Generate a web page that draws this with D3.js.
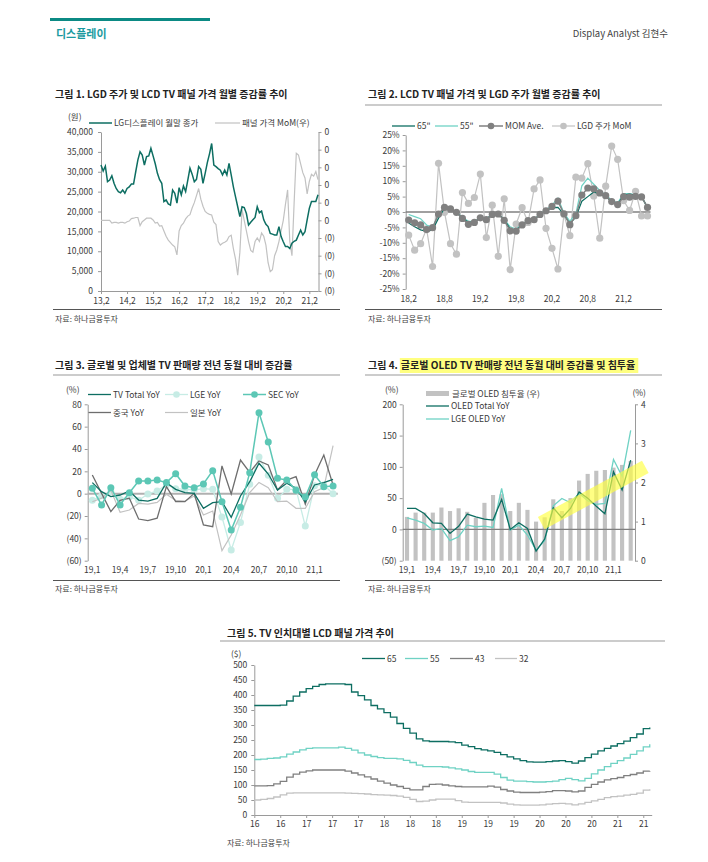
<!DOCTYPE html>
<html>
<head>
<meta charset="utf-8">
<script src="https://cdn.jsdelivr.net/npm/d3@7"></script>
<style>
  body { margin: 0; background: #fff; }
  svg text { font-family: "Noto Sans CJK KR", "Noto Sans", sans-serif; }
</style>
</head>
<body>
<svg id="page" width="708" height="862"></svg>
<script>
// ---------- chart 1 : LGD price vs panel MoM ----------
var c1Labels = ["13,2","14,2","15,2","16,2","17,2","18,2","19,2","20,2","21,2"]
var c1RightTicks = [-0.2,-0.15,-0.1,-0.05,0,0.05,0.1,0.15,0.2,0.25]
var lgdClose = [31700,30200,31400,27500,27900,29000,27100,25800,25000,24700,
  25400,24600,25800,26200,26900,26900,30000,33000,35000,34200,
  31700,33800,34000,35900,34000,32000,29600,28000,27100,22500,
  22900,21900,21600,25400,24600,22100,26000,24200,26400,25000,
  27900,30900,29400,27500,28100,31300,30600,27100,29600,32300,
  34500,37100,31700,31300,30800,30400,29200,30400,29200,32100,
  29200,26200,23700,21200,18700,21200,21000,19500,16600,17300,
  17900,18500,21200,19700,20100,17900,16800,16200,14500,14300,
  14100,14100,16200,13700,12400,11200,11200,10700,12000,12500,
  12800,14100,15300,14100,14900,17900,20800,22500,22500,22500,
  24200]
var panelMoM = [0,0,0,0,0,-0.008,-0.006,-0.006,-0.008,-0.006,
  -0.006,-0.008,-0.004,-0.002,0.005,0.006,0.008,0.008,-0.015,-0.004,
  0.001,0.006,0.006,0.006,0.001,-0.008,-0.006,-0.016,-0.015,-0.03,
  -0.045,-0.056,-0.063,-0.07,-0.075,-0.098,-0.03,-0.015,-0.008,0.004,
  0.012,0.016,0.035,0.05,0.07,0.09,0.06,0.04,0.025,0.02,
  0.017,0.015,-0.005,-0.012,-0.06,-0.07,-0.065,-0.062,-0.058,-0.046,
  -0.042,-0.08,-0.11,-0.155,-0.09,0.03,0.0,-0.03,-0.06,-0.085,
  -0.09,-0.06,-0.05,-0.06,-0.036,-0.045,-0.07,-0.12,-0.145,-0.14,
  -0.1,-0.084,-0.06,-0.03,0.0,0.045,0.086,-0.06,-0.1,0.05,
  0.19,0.185,0.16,0.135,0.12,0.075,0.11,0.13,0.125,0.138,
  0.115]

// ---------- chart 2 : monthly change (%) ----------
var c2Labels = ["18,2","18,8","19,2","19,8","20,2","20,8","21,2"]
var mom65 = [-3.6,-4.8,-5.8,-6.3,-5.8,-2.0,1.2,0.8,-0.2,-2.0,-3.3,-3.2,-2.0,-2.3,-0.8,-0.7,-2.5,-5.5,-5.8,-4.2,
  -2.8,-2.4,-0.9,0.4,1.4,1.5,-0.8,-3.8,-1.6,3.5,5.0,6.5,5.8,5.0,3.3,2.5,5.5,5.8,5.5,5.0,1.5]
var mom55 = [-0.8,-1.5,-2.2,-4.2,-5.0,-0.8,1.4,1.0,0.0,-1.7,-3.0,-3.0,-1.8,-2.3,-0.8,-0.6,-2.4,-4.8,-5.5,-4.0,
  -2.6,-2.3,-0.7,0.7,2.2,4.5,-0.3,-3.0,-0.5,8.5,11.0,9.0,7.0,5.5,3.8,3.0,6.0,6.0,5.5,5.0,1.2]
var momAve = [-2.6,-3.5,-4.2,-5.7,-5.1,-0.65,1.5,1.0,-0.1,-2.1,-4.0,-3.4,-1.9,-2.5,-0.8,-0.65,-2.7,-6.1,-6.2,-4.2,
  -2.8,-2.5,-0.8,0.4,1.8,3.5,-0.6,-4.1,-1.2,5.5,7.8,7.5,6.2,5.3,3.4,2.4,5.0,4.8,5.1,4.9,1.5]
var lgdMoM = [-7.5,-12.4,-10.3,-5.5,-17.7,15.8,-0.1,-10.3,-13.7,6.3,2.8,4.7,12.3,-8.3,2.2,-14.4,4.3,-18.7,-3.9,1.4,
  -3.4,7.5,10.4,-5.3,-11.8,-18.5,-0.8,-7.7,11.3,11.0,15.7,5.2,-8.5,8.4,21.4,17.1,3.7,0.5,6.7,-1.3,-1.3]

// ---------- chart 3 : TV sales YoY (%) ----------
var c3Labels = ["19,1","19,4","19,7","19,10","20,1","20,4","20,7","20,10","21,1"]
var tvTotalYoY = [9.9,1.8,-2.7,-1.2,2.4,-5.7,-6.6,-4.2,9.9,3.9,0.9,0.3,-13.1,-8,-7.2,-21.2,-2.1,10.7,27.2,17.6,3.3,9.3,4.8,-7.2,7.8,9.9,12.8]
var lgeYoY = [-6,-1.8,1.8,-5,-2.7,-6,-0.3,2.4,8,4.5,3.9,3.3,4.5,3.9,-20.9,-50.4,-25.7,8.4,32.8,16.4,-4.2,3.9,3.9,-29,7.2,7.8,0]
var secYoY = [4.8,-10.1,5.4,-10.1,0.9,11.3,11.3,12.2,9.9,17.9,6.9,5.4,8.7,20.6,-7.2,-32.5,-12.2,18.8,72.5,46.3,13.7,12.2,3.0,-3.0,17.0,6.3,6.9]
var chinaYoY = [16.7,0.3,-16,-6,-4,-22.7,-24.2,-22,6.3,-7.2,-7.2,0.3,-28,-29.6,24.8,-0.3,30.1,19.1,29.3,25.7,3.3,12.2,15.2,-9.3,16.7,34.6,7.8]
var japanYoY = [-7.2,-4,3,-16.7,-14.6,-8.7,-9.3,-7.8,-0.6,-6,-6.6,-2.1,-19.1,-15.5,-51,-37,-19,0.9,10.1,5.4,-7.2,-6.6,-13.1,-13.1,1.8,5.4,43]

// ---------- chart 4 : OLED TV ----------
var oledShare = [1.12,1.23,1.23,1.23,1.36,1.27,1.34,1.25,1.1,1.48,1.68,1.70,1.27,1.48,1.30,1.0,1.11,1.57,1.27,1.6,2.05,2.22,2.30,2.32,2.38,2.45,2.55]
var oledTotalYoY = [33.5,33.5,25.5,10.6,9.6,-6.4,5,24.5,20.2,16.5,15,48,0,10.6,1.6,-34.6,-15.4,34.6,18.6,33.5,60,50,37,25,92,63,110.7]
var lgeOledYoY = [18.6,14.9,9.6,-1,1.6,-18,-11.7,6.9,4.3,5.3,3.2,65.4,-1,6.9,-9,-33,-18,37.8,49.5,42.6,57.5,45.8,40,41.5,111.7,85,158.5]
var markIdx = [15.6, 27.7]   // yellow marker, in month index
var markVal = [10, 100]      // and left-axis value

// ---------- chart 5 : LCD panel price by size ($) ----------
var c5Labels = ["16","16","17","17","17","18","18","18","19","19","19","20","20","20","21","21"]
var panel65 = [365,365,365,365,366,380,396,410,421,429,435,437,437,437,435,410,398,384,365,354,
  341,326,305,289,273,254,247,245,245,245,244,241,233,228,221,217,214,209,201,194,
  187,181,177,176,176,178,180,181,178,173,180,191,203,214,222,230,238,246,258,270,288,292]
var panel55 = [185,186,189,190,194,203,210,217,222,224,224,224,224,226,222,216,207,200,195,191,
  189,189,187,182,175,166,161,161,161,160,157,154,150,145,142,142,142,136,125,116,
  113,113,111,110,110,111,113,118,122,118,114,122,137,150,161,172,181,190,202,214,227,236]
var panel43 = [97,97,98,104,112,126,136,143,147,150,150,150,150,150,146,140,134,127,120,113,
  106,100,95,89,84,84,95,102,103,100,97,95,94,94,94,94,96,93,85,80,
  76,75,75,75,76,78,81,81,80,77,80,92,102,110,117,121,125,131,135,140,146,147]
var panel32 = [50,52,55,60,67,73,74,74,74,74,74,74,74,74,73,72,71,70,68,67,
  66,65,63,59,52,45,46,50,53,53,53,48,43,42,42,42,42,42,40,36,
  34,33,33,33,34,36,38,39,37,34,37,42,47,52,58,61,63,66,69,73,83,86]

var TEAL_DARK = "#0d6e62", TEAL = "#5cc7b5", TEAL_PALE = "#c7ece5", TEAL_LINE = "#6fd2c4"
var GRAY_DARK = "#6e6e6e", GRAY_MID = "#808080", GRAY_LIGHT = "#c2c2c2"

var svg = d3.select("#page")
svg.append("rect").attr("width", 708).attr("height", 862).attr("fill", "#fff")

function styleAxis(g) {
  g.attr("font-family", null).attr("font-size", 8.5)
  g.selectAll("path.domain").attr("stroke", "#9a9a9a")
  g.selectAll(".tick line").attr("stroke", "#9a9a9a")
  g.selectAll("text").attr("fill", "#3a3a3a")
}
function noDomain(g) { g.select("path.domain").remove() }

function title(x, y, txt) {
  return svg.append("text").attr("x", x).attr("y", y).attr("font-size", 10).attr("font-weight", "bold").attr("fill", "#222").text(txt)
}
function hline(x1, x2, y, color, w) {
  svg.append("line").attr("x1", x1).attr("x2", x2).attr("y1", y).attr("y2", y).attr("stroke", color).attr("stroke-width", w || 1)
}
function source(x, y) {
  svg.append("text").attr("x", x).attr("y", y).attr("font-size", 8).attr("fill", "#444").text("자료: 하나금융투자")
}
function small(x, y, txt, anchor) {
  svg.append("text").attr("x", x).attr("y", y).attr("font-size", 8.5).attr("fill", "#3a3a3a").attr("text-anchor", anchor || "start").text(txt)
}
function legendLine(x1, x2, y, color, width, label, dot) {
  svg.append("line").attr("x1", x1).attr("x2", x2).attr("y1", y).attr("y2", y).attr("stroke", color).attr("stroke-width", width)
  if (dot) svg.append("circle").attr("cx", (x1 + x2) / 2).attr("cy", y).attr("r", 3.3).attr("fill", dot)
  svg.append("text").attr("x", x2 + 2).attr("y", y + 3).attr("font-size", 8.5).attr("fill", "#3a3a3a").text(label)
}
function paren(d) { return d < 0 ? "(" + (-d) + ")" : d }

// ---------- header ----------
svg.append("rect").attr("x", 50).attr("y", 18).attr("width", 160).attr("height", 3).attr("fill", "#0b8a84")
svg.append("text").attr("x", 56).attr("y", 38).attr("font-size", 11).attr("font-weight", "bold").attr("fill", "#1a9aa0").text("디스플레이")
svg.append("text").attr("x", 668).attr("y", 37).attr("font-size", 9.5).attr("text-anchor", "end").attr("fill", "#444").text("Display Analyst  김현수")

// ================= chart 1 =================
title(55, 98, "그림 1. LGD 주가 및 LCD TV 패널 가격 월별 증감률 추이")
small(68, 120, "(원)")
legendLine(89, 112, 123, TEAL_DARK, 1.5, "LG디스플레이 월말 종가")
legendLine(215, 240, 123, GRAY_LIGHT, 1.2, "패널 가격 MoM(우)")

var x1 = d3.scaleLinear().domain([0, lgdClose.length - 1]).range([101, 318])
var y1L = d3.scaleLinear().domain([0, 40000]).range([291, 132])
var y1R = d3.scaleLinear().domain([-0.2, 0.25]).range([291, 132])

svg.append("g").attr("transform", "translate(101,0)")
  .call(d3.axisLeft(y1L).tickValues(d3.range(0, 40001, 5000)).tickFormat(d3.format(",")).tickSize(3).tickPadding(5).tickSizeOuter(0)).call(styleAxis)
svg.append("g").attr("transform", "translate(318.5,0)")
  .call(d3.axisRight(y1R).tickValues(c1RightTicks).tickFormat(function(d) { return d < -1e-9 ? "(0)" : "0" }).tickSize(3).tickSizeOuter(0)).call(styleAxis)
svg.append("g").attr("transform", "translate(0,291)")
  .call(d3.axisBottom(x1).tickValues(d3.range(0, 97, 12)).tickFormat(function(d) { return c1Labels[d / 12] }).tickSize(3).tickPadding(4).tickSizeOuter(0)).call(styleAxis)

svg.append("path").datum(panelMoM).attr("fill", "none").attr("stroke", GRAY_LIGHT).attr("stroke-width", 1.2)
  .attr("d", d3.line().x(function(d, i) { return x1(i) }).y(function(d) { return y1R(d) }))
svg.append("path").datum(lgdClose).attr("fill", "none").attr("stroke", TEAL_DARK).attr("stroke-width", 1.5)
  .attr("d", d3.line().x(function(d, i) { return x1(i) }).y(function(d) { return y1L(d) }))

hline(53, 340, 309.5, "#555")
source(55, 322)

// ================= chart 2 =================
title(368, 98, "그림 2. LCD TV 패널 가격 및 LGD 주가 월별 증감률 추이")
hline(365, 662, 105, "#999")
legendLine(392, 415, 126, TEAL_DARK, 1.3, "65\"")
legendLine(435, 458, 126, TEAL_LINE, 1.3, "55\"")
legendLine(479, 503, 126, GRAY_MID, 1.5, "MOM Ave.", GRAY_MID)
legendLine(552, 575, 126, GRAY_LIGHT, 1.2, "LGD 주가 MoM", GRAY_LIGHT)

var x2 = d3.scaleBand().domain(d3.range(momAve.length)).range([405.7, 650.5])
var y2 = d3.scaleLinear().domain([-25, 25]).range([289, 135])
var cx2 = function(d, i) { return x2(i) + x2.bandwidth() / 2 }

svg.append("g").attr("transform", "translate(405.7,0)")
  .call(d3.axisLeft(y2).tickValues(d3.range(-25, 26, 5)).tickFormat(function(d) { return d + "%" }).tickSize(3).tickSizeOuter(0)).call(styleAxis)
svg.append("g").attr("transform", "translate(0,289)")
  .call(d3.axisBottom(x2).tickValues(d3.range(0, 37, 6)).tickFormat(function(d) { return c2Labels[d / 6] }).tickSize(0).tickPadding(7)).call(styleAxis).call(noDomain)
hline(405.7, 650.5, y2(0), GRAY_MID, 1.5)

svg.append("path").datum(lgdMoM).attr("fill", "none").attr("stroke", GRAY_LIGHT).attr("stroke-width", 1.2)
  .attr("d", d3.line().x(cx2).y(function(d) { return y2(d) }))
svg.selectAll("circle.lgd").data(lgdMoM).enter().append("circle").attr("class", "lgd")
  .attr("cx", cx2).attr("cy", function(d) { return y2(d) }).attr("r", 3.6).attr("fill", GRAY_LIGHT)
svg.append("path").datum(mom55).attr("fill", "none").attr("stroke", TEAL_LINE).attr("stroke-width", 1.2)
  .attr("d", d3.line().x(cx2).y(function(d) { return y2(d) }))
svg.append("path").datum(mom65).attr("fill", "none").attr("stroke", TEAL_DARK).attr("stroke-width", 1.2)
  .attr("d", d3.line().x(cx2).y(function(d) { return y2(d) }))
svg.append("path").datum(momAve).attr("fill", "none").attr("stroke", GRAY_MID).attr("stroke-width", 1.5)
  .attr("d", d3.line().x(cx2).y(function(d) { return y2(d) }))
svg.selectAll("circle.ave").data(momAve).enter().append("circle").attr("class", "ave")
  .attr("cx", cx2).attr("cy", function(d) { return y2(d) }).attr("r", 3.6).attr("fill", GRAY_MID)

hline(365, 662, 309.5, "#555")
source(368, 322)

// ================= chart 3 =================
title(55, 369, "그림 3. 글로벌 및 업체별 TV 판매량 전년 동월 대비 증감률")
hline(53, 340, 375, "#999")
small(66, 393, "(%)")
legendLine(88, 111, 394.5, TEAL_DARK, 1.3, "TV Total YoY")
legendLine(165, 188, 394.5, TEAL_PALE, 1.3, "LGE YoY", TEAL_PALE)
legendLine(243, 266, 394.5, TEAL, 1.5, "SEC YoY", TEAL)
legendLine(88, 111, 412.5, GRAY_DARK, 1.3, "중국 YoY")
legendLine(165, 188, 412.5, GRAY_LIGHT, 1.2, "일본 YoY")

var x3 = d3.scaleBand().domain(d3.range(tvTotalYoY.length)).range([87.7, 337.7])
var y3 = d3.scaleLinear().domain([-60, 80]).range([560.7, 404.3])
var cx3 = function(d, i) { return x3(i) + x3.bandwidth() / 2 }
var line3 = d3.line().x(cx3).y(function(d) { return y3(d) })

svg.append("g").attr("transform", "translate(87.7,0)")
  .call(d3.axisLeft(y3).tickValues(d3.range(-60, 81, 20)).tickFormat(paren).tickSize(3).tickSizeOuter(0)).call(styleAxis)
svg.append("g").attr("transform", "translate(0,560.7)")
  .call(d3.axisBottom(x3).tickValues(d3.range(0, 25, 3)).tickFormat(function(d) { return c3Labels[d / 3] }).tickSize(0).tickPadding(6)).call(styleAxis).call(noDomain)
hline(87.7, 337.7, y3(0), "#b0b0b0", 2)

svg.append("path").datum(lgeYoY).attr("fill", "none").attr("stroke", TEAL_PALE).attr("stroke-width", 1.3).attr("d", line3)
svg.selectAll("circle.lge").data(lgeYoY).enter().append("circle").attr("class", "lge")
  .attr("cx", cx3).attr("cy", function(d) { return y3(d) }).attr("r", 3.5).attr("fill", TEAL_PALE)
svg.append("path").datum(japanYoY).attr("fill", "none").attr("stroke", GRAY_LIGHT).attr("stroke-width", 1.2).attr("d", line3)
svg.append("path").datum(chinaYoY).attr("fill", "none").attr("stroke", GRAY_DARK).attr("stroke-width", 1.3).attr("d", line3)
svg.append("path").datum(tvTotalYoY).attr("fill", "none").attr("stroke", TEAL_DARK).attr("stroke-width", 1.3).attr("d", line3)
svg.append("path").datum(secYoY).attr("fill", "none").attr("stroke", TEAL).attr("stroke-width", 1.5).attr("d", line3)
svg.selectAll("circle.sec").data(secYoY).enter().append("circle").attr("class", "sec")
  .attr("cx", cx3).attr("cy", function(d) { return y3(d) }).attr("r", 3.5).attr("fill", TEAL)

hline(53, 340, 580.5, "#555")
source(55, 591.5)

// ================= chart 4 =================
var t4a = title(368, 369, "그림 4.")
var hx = 368 + t4a.node().getComputedTextLength() + 3
var hlRect = svg.append("rect").attr("fill", "#ffff80")
var t4b = title(hx, 369, "글로벌 OLED TV 판매량 전년 동월 대비 증감률 및 침투율")
hlRect.attr("x", hx - 1).attr("y", 358).attr("width", t4b.node().getComputedTextLength() + 4).attr("height", 15)
hline(365, 662, 375, "#999")
small(385, 393, "(%)")
small(646, 395.5, "(%)", "end")
svg.append("rect").attr("x", 426).attr("y", 391).attr("width", 23).attr("height", 5).attr("fill", GRAY_LIGHT)
svg.append("text").attr("x", 452).attr("y", 396.5).attr("font-size", 8.5).attr("fill", "#3a3a3a").text("글로벌 OLED 침투율 (우)")
legendLine(426, 449, 406, TEAL_DARK, 1.3, "OLED Total YoY")
legendLine(426, 449, 419, TEAL_LINE, 1.3, "LGE OLED YoY")

var x4 = d3.scaleBand().domain(d3.range(oledShare.length)).range([402.7, 635])
var y4L = d3.scaleLinear().domain([-50, 200]).range([560.7, 404.3])
var y4R = d3.scaleLinear().domain([0, 4]).range([560.7, 404.3])
var cx4 = function(d, i) { return x4(i) + x4.bandwidth() / 2 }
var line4 = d3.line().x(cx4).y(function(d) { return y4L(d) })

svg.selectAll("rect.bar").data(oledShare).enter().append("rect").attr("class", "bar")
  .attr("x", function(d, i) { return x4(i) + x4.bandwidth() * 0.26 })
  .attr("width", x4.bandwidth() * 0.48)
  .attr("y", function(d) { return y4R(d) })
  .attr("height", function(d) { return y4R(0) - y4R(d) })
  .attr("fill", GRAY_LIGHT)
svg.append("g").attr("transform", "translate(402.7,0)")
  .call(d3.axisLeft(y4L).tickValues(d3.range(-50, 201, 50)).tickFormat(paren).tickSize(3).tickSizeOuter(0)).call(styleAxis)
svg.append("g").attr("transform", "translate(635,0)")
  .call(d3.axisRight(y4R).tickValues(d3.range(0, 5)).tickFormat(d3.format("d")).tickSize(3).tickSizeOuter(0)).call(styleAxis)
svg.append("g").attr("transform", "translate(0,560.7)")
  .call(d3.axisBottom(x4).tickValues(d3.range(0, 25, 3)).tickFormat(function(d) { return c3Labels[d / 3] }).tickSize(0).tickPadding(6)).call(styleAxis).call(noDomain)
hline(402.7, 635, y4L(0), GRAY_MID, 1.2)

svg.append("path").datum(lgeOledYoY).attr("fill", "none").attr("stroke", TEAL_LINE).attr("stroke-width", 1.3).attr("d", line4)
svg.append("path").datum(oledTotalYoY).attr("fill", "none").attr("stroke", TEAL_DARK).attr("stroke-width", 1.3).attr("d", line4)

var xIdx = function(v) { return x4(0) + x4.bandwidth() / 2 + v * x4.step() }
svg.append("line")
  .attr("x1", xIdx(markIdx[0])).attr("y1", y4L(markVal[0]))
  .attr("x2", xIdx(markIdx[1])).attr("y2", y4L(markVal[1]))
  .attr("stroke", "#ffff40").attr("stroke-opacity", 0.65).attr("stroke-width", 14)

hline(365, 662, 580.5, "#555")
source(368, 591.5)

// ================= chart 5 =================
title(227, 637, "그림 5. TV 인치대별 LCD 패널 가격 추이")
hline(220, 665, 641, "#999")
small(231, 656.5, "($)")
legendLine(362, 385, 658.5, TEAL_DARK, 1.3, "65")
legendLine(405, 428, 658.5, TEAL_LINE, 1.3, "55")
legendLine(450, 473, 658.5, GRAY_MID, 1.3, "43")
legendLine(495, 517, 658.5, GRAY_LIGHT, 1.3, "32")

var x5 = d3.scaleLinear().domain([0, 61.3]).range([254.3, 651.7])
var y5 = d3.scaleLinear().domain([0, 500]).range([815, 665])
var line5 = d3.line().curve(d3.curveStepAfter).x(function(d, i) { return x5(i) }).y(function(d) { return y5(d) })

svg.append("g").attr("transform", "translate(254.3,0)")
  .call(d3.axisLeft(y5).tickValues(d3.range(0, 501, 50)).tickSize(3).tickPadding(4).tickSizeOuter(0)).call(styleAxis)
svg.append("g").attr("transform", "translate(0,815)")
  .call(d3.axisBottom(x5).tickValues(d3.range(0, 61, 4)).tickFormat(function(d) { return c5Labels[d / 4] }).tickSize(3).tickSizeOuter(0)).call(styleAxis)

svg.append("path").datum(panel32).attr("fill", "none").attr("stroke", GRAY_LIGHT).attr("stroke-width", 1.3).attr("d", line5)
svg.append("path").datum(panel43).attr("fill", "none").attr("stroke", GRAY_MID).attr("stroke-width", 1.3).attr("d", line5)
svg.append("path").datum(panel55).attr("fill", "none").attr("stroke", TEAL_LINE).attr("stroke-width", 1.3).attr("d", line5)
svg.append("path").datum(panel65).attr("fill", "none").attr("stroke", TEAL_DARK).attr("stroke-width", 1.3).attr("d", line5)

source(227, 846)
</script>
</body>
</html>
